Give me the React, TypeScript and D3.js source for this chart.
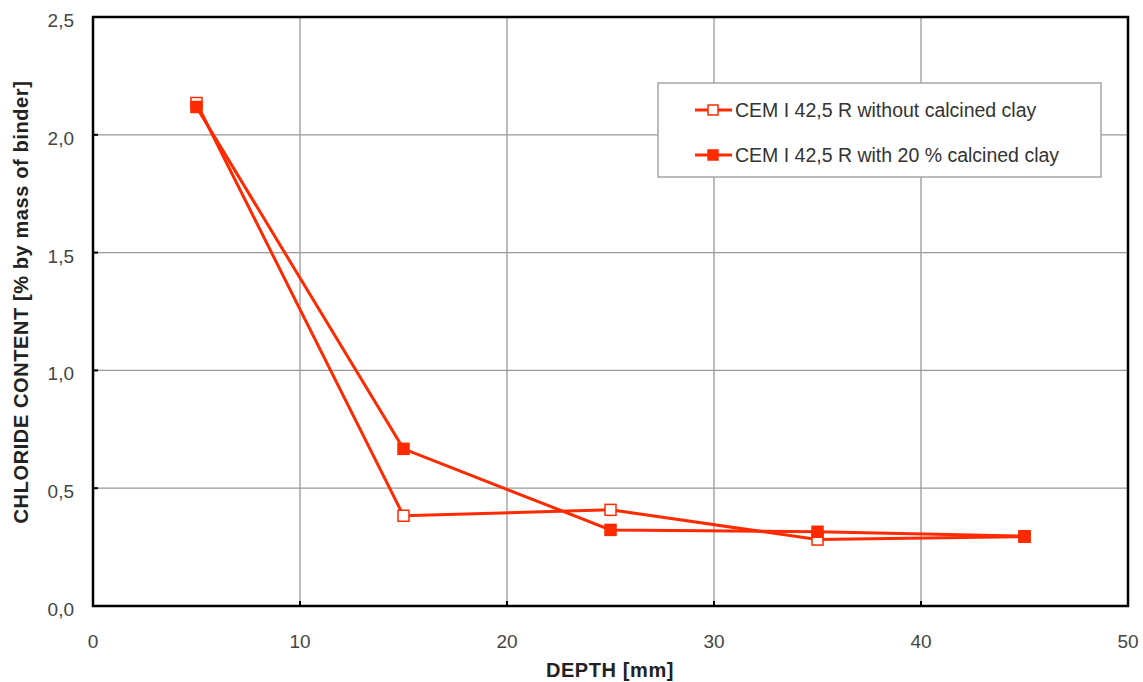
import React from "react";
import * as d3 from "d3";

const depths = [5, 15, 25, 35, 45];
const withoutClay = [2.135, 0.383, 0.408, 0.282, 0.294];
const withClay = [2.118, 0.667, 0.323, 0.315, 0.296];
const xTicks = [0, 10, 20, 30, 40, 50];
const yTicks = [0, 0.5, 1.0, 1.5, 2.0, 2.5];
const seriesNames = ["CEM I 42,5 R without calcined clay", "CEM I 42,5 R with 20 % calcined clay"];

const W = 1143, H = 682;
const L = 93, R = 1128, T = 17, B = 606;
const RED = "#ff2a00";
const FONT = "'Liberation Sans', Arial, sans-serif";

export default function App() {
  const x = d3.scaleLinear().domain([0, 50]).range([L, R]);
  const y = d3.scaleLinear().domain([0, 2.5]).range([B, T]);
  const line = d3.line<number>().x((_, i) => x(depths[i])).y((d) => y(d));
  const fmt = (v: number) => v.toFixed(1).replace(".", ",");

  const series = [
    { vals: withoutClay, filled: false },
    { vals: withClay, filled: true },
  ];

  return (
    <svg width={W} height={H} style={{ position: "absolute", left: 0, top: 0, background: "#fff" }}>
      {/* grid */}
      {xTicks.slice(1, -1).map((t) => (
        <line key={"gx" + t} x1={x(t)} x2={x(t)} y1={T} y2={B} stroke="#999" strokeWidth={1.3} />
      ))}
      {yTicks.slice(1, -1).map((t) => (
        <line key={"gy" + t} x1={L} x2={R} y1={y(t)} y2={y(t)} stroke="#999" strokeWidth={1.3} />
      ))}
      {/* ticks */}
      {xTicks.map((t) => (
        <line key={"tx" + t} x1={x(t)} x2={x(t)} y1={B} y2={B - 5} stroke="#000" strokeWidth={2} />
      ))}
      {yTicks.map((t) => (
        <line key={"ty" + t} x1={L} x2={L + 5} y1={y(t)} y2={y(t)} stroke="#000" strokeWidth={2} />
      ))}
      <rect x={L} y={T} width={R - L} height={B - T} fill="none" stroke="#000" strokeWidth={2.5} />
      {/* tick labels */}
      {xTicks.map((t) => (
        <text key={"lx" + t} x={x(t)} y={648} textAnchor="middle" fontFamily={FONT} fontSize={19} fill="#444">
          {t}
        </text>
      ))}
      {yTicks.map((t) => (
        <text key={"ly" + t} x={L - 19} y={y(t) + 10} textAnchor="end" fontFamily={FONT} fontSize={19} fill="#444">
          {fmt(t)}
        </text>
      ))}
      {/* axis titles */}
      <text x={610} y={677} textAnchor="middle" fontFamily={FONT} fontSize={20} fontWeight="bold" fill="#222" letterSpacing={0.6}>
        DEPTH [mm]
      </text>
      <text
        transform={`translate(28, 302) rotate(-90)`}
        textAnchor="middle"
        fontFamily={FONT}
        fontSize={20}
        fontWeight="bold"
        fill="#222"
        letterSpacing={0.6}
      >
        CHLORIDE CONTENT [% by mass of binder]
      </text>
      {/* series */}
      {series.map((s, si) => (
        <g key={"s" + si}>
          <path d={line(s.vals) || ""} fill="none" stroke={RED} strokeWidth={3} />
          {s.vals.map((v, i) => (
            <rect
              key={i}
              x={x(depths[i]) - 5.5}
              y={y(v) - 5.5}
              width={11}
              height={11}
              fill={s.filled ? RED : "#fff"}
              stroke={RED}
              strokeWidth={1.5}
            />
          ))}
        </g>
      ))}
      {/* legend */}
      <rect x={658} y={83} width={443} height={94} fill="#fff" stroke="#999" strokeWidth={1.3} />
      {seriesNames.map((name, i) => {
        const ly = 110 + i * 45;
        const filled = i === 1;
        return (
          <g key={"lg" + i}>
            <line x1={695} x2={732} y1={ly} y2={ly} stroke={RED} strokeWidth={3} />
            <rect x={708} y={ly - 5} width={10} height={10} fill={filled ? RED : "#fff"} stroke={RED} strokeWidth={1.5} />
            <text x={735} y={ly + 7} fontFamily={FONT} fontSize={19.5} fill="#333">
              {name}
            </text>
          </g>
        );
      })}
    </svg>
  );
}
